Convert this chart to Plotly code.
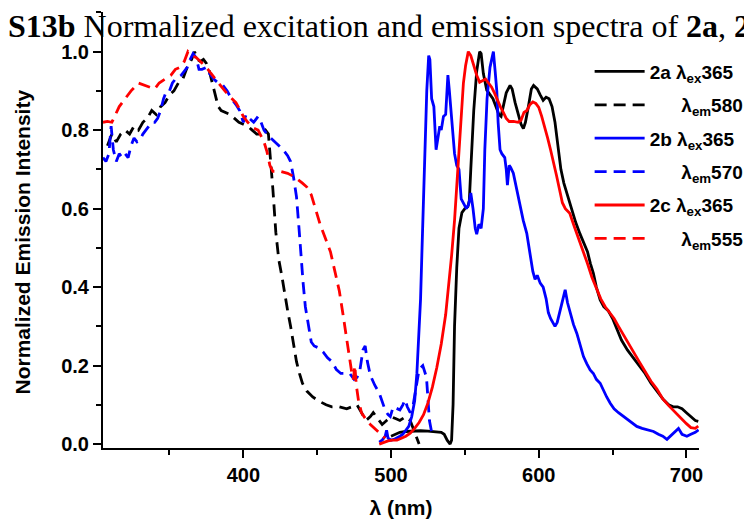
import plotly.graph_objects as go

# ---------------- data ----------------
# 2a excitation (lambda_em 580) - dashed black
ex2a_nm = [308, 311, 314, 317, 320, 323, 326, 329, 332, 335, 338, 341, 344, 347, 350, 353, 356, 359, 362, 365,
           367, 369, 371, 373, 375, 377, 379, 381, 383, 385, 388, 391, 394, 397, 400, 403, 406, 409, 412, 415,
           417, 419, 420, 422, 424, 426, 428, 430, 432, 434, 436, 438, 440, 443, 447, 451, 456, 460, 465, 470,
           474, 477, 480, 483, 486, 488, 491, 494, 497, 500, 503, 506, 510, 513, 516, 519]
ex2a_v = [0.76, 0.79, 0.77, 0.79, 0.80, 0.79, 0.81, 0.80, 0.82, 0.83, 0.85, 0.84, 0.86, 0.87, 0.89, 0.90, 0.92, 0.93, 0.96, 0.98,
          1.00, 0.98, 0.975, 0.98, 0.97, 0.95, 0.92, 0.89, 0.86, 0.85, 0.845, 0.84, 0.83, 0.82, 0.815, 0.81, 0.80, 0.79, 0.79, 0.80,
          0.79, 0.71, 0.65, 0.54, 0.47, 0.43, 0.38, 0.34, 0.30, 0.25, 0.21, 0.18, 0.155, 0.135, 0.12, 0.11, 0.10, 0.095, 0.095, 0.09,
          0.095, 0.10, 0.08, 0.06, 0.07, 0.08, 0.065, 0.05, 0.06, 0.07, 0.065, 0.06, 0.07, 0.06, 0.03, 0.0]

# 2b excitation (lambda_em 570) - dashed blue
ex2b_nm = [305, 307, 309, 310.5, 312, 314, 316, 318, 320, 322, 324, 326, 328, 330, 332, 334, 336, 338, 340, 342,
           344, 346, 348, 350, 352, 354, 356, 358, 360, 362, 364, 366, 368, 370, 372, 375, 377, 380, 383, 386,
           389, 392, 395, 397.5, 400, 402, 404, 407, 410, 412, 414, 417, 420, 423, 427, 430, 432, 434, 436, 437.5,
           439, 440.5, 442, 444, 446, 448, 451, 454, 457, 460, 463, 466, 469, 472, 475, 477, 479, 481, 482.5, 484,
           486, 489, 492, 494, 496, 498, 499.5, 501.5, 504, 506, 508, 509.5, 511, 513, 515, 517, 519, 521.5, 524, 526, 527.5]
ex2b_v = [0.73, 0.72, 0.74, 0.81, 0.75, 0.72, 0.74, 0.73, 0.74, 0.73, 0.76, 0.78, 0.77, 0.775, 0.79, 0.80, 0.81, 0.82, 0.82, 0.83,
          0.85, 0.88, 0.90, 0.90, 0.92, 0.93, 0.935, 0.94, 0.95, 0.96, 0.98, 0.995, 0.985, 0.955, 0.955, 0.96, 0.945, 0.93, 0.92, 0.915,
          0.90, 0.88, 0.865, 0.85, 0.82, 0.84, 0.83, 0.82, 0.835, 0.82, 0.80, 0.785, 0.775, 0.765, 0.75, 0.735, 0.72, 0.68, 0.63, 0.56,
          0.47, 0.41, 0.35, 0.30, 0.26, 0.25, 0.245, 0.235, 0.22, 0.21, 0.19, 0.18, 0.18, 0.18, 0.165, 0.17, 0.19, 0.24, 0.25, 0.21,
          0.175, 0.15, 0.13, 0.11, 0.087, 0.075, 0.07, 0.095, 0.09, 0.087, 0.10, 0.113, 0.095, 0.08, 0.10, 0.15, 0.19, 0.20, 0.17, 0.06, 0.03]

# 2c excitation (lambda_em 555) - dashed red
ex2c_nm = [305, 308, 311, 316, 320, 324, 329, 333, 337, 340, 343, 347, 351, 354, 357, 360, 362.5, 365, 368, 371,
           375, 378, 381, 384, 387.5, 391, 395, 398, 400, 403, 407, 410, 412, 414, 416, 418, 420, 425, 430, 435,
           440, 443, 446, 449, 452, 456, 459, 462, 465, 467.5, 470, 472, 473.5, 474.5, 475.5, 476.5, 478, 480, 483.5, 486,
           490, 493, 496]
ex2c_v = [0.82, 0.822, 0.82, 0.86, 0.88, 0.90, 0.92, 0.915, 0.91, 0.905, 0.92, 0.93, 0.94, 0.955, 0.96, 0.975, 1.0, 0.99, 0.985, 0.975,
          0.96, 0.945, 0.93, 0.915, 0.90, 0.885, 0.87, 0.85, 0.835, 0.82, 0.805, 0.80, 0.785, 0.77, 0.745, 0.71, 0.695, 0.695, 0.69, 0.68,
          0.665, 0.655, 0.635, 0.60, 0.56, 0.52, 0.49, 0.44, 0.39, 0.33, 0.27, 0.21, 0.18, 0.165, 0.20, 0.15, 0.11, 0.08, 0.06, 0.05,
          0.036, 0.025, 0.015]

# 2a emission (lambda_ex 365) - solid black
em2a_nm = [500, 503, 506, 510, 515, 520, 525, 530, 534, 536, 538, 540, 541, 542, 543, 544.5, 546, 548, 550, 552,
           553, 554, 556, 558, 560, 561, 562.5, 564.8, 567, 569, 571, 573, 574.5, 576, 578, 580.6, 582, 584, 586, 588,
           589.6, 591, 593, 595, 596.5, 599, 601, 603, 605, 607, 609, 611, 613, 615, 617, 619, 622, 625, 628, 631,
           633, 635, 637, 639, 641.6, 644, 647, 650, 653, 656, 660, 664, 668, 672, 676, 680, 684, 688, 691, 694,
           697, 700, 703, 706, 708]
em2a_v = [0.02, 0.025, 0.03, 0.032, 0.033, 0.034, 0.033, 0.032, 0.03, 0.025, 0.01, 0.0, 0.01, 0.10, 0.30, 0.45, 0.55, 0.59, 0.60, 0.605,
          0.62, 0.70, 0.85, 0.95, 1.0, 0.995, 0.944, 0.902, 0.89, 0.88, 0.86, 0.84, 0.835, 0.86, 0.895, 0.914, 0.905, 0.87, 0.84, 0.815,
          0.804, 0.82, 0.86, 0.905, 0.914, 0.905, 0.89, 0.876, 0.884, 0.88, 0.86, 0.82, 0.76, 0.70, 0.665, 0.64, 0.60, 0.565, 0.535, 0.51,
          0.49, 0.46, 0.435, 0.40, 0.367, 0.35, 0.34, 0.32, 0.29, 0.265, 0.24, 0.22, 0.20, 0.18, 0.155, 0.135, 0.115, 0.10, 0.095, 0.095,
          0.09, 0.08, 0.07, 0.06, 0.058]

# 2b emission (lambda_ex 365) - solid blue
em2b_nm = [492, 494, 496, 497, 498, 500, 502, 504, 506, 508, 510, 512, 514, 516, 517.5, 518.5, 520, 521, 522, 523,
           524.2, 525.5, 526.3, 527.5, 529, 530.5, 532, 533, 534, 535.5, 537, 538.5, 539.5, 541, 543, 544.5, 546, 547.5, 549.5, 551,
           552.5, 554, 555.5, 557, 558, 559.5, 561, 562.5, 563.5, 565, 567, 569.3, 570.5, 571.6, 572.5, 573.8, 575, 577, 578, 578.8,
           580, 581, 582.8, 584.5, 586, 587.5, 589.5, 591.9, 594, 596, 597.5, 599, 601, 603, 605, 606.5, 608, 609.5, 611, 612.5,
           614.5, 616, 617.9, 619.5, 621.3, 623.5, 625.8, 628, 630.3, 632.5, 634.8, 637, 639, 641.6, 644, 646, 648.4, 651, 654, 657.4,
           661, 664, 666.4, 670, 674, 677.7, 681, 684, 686.8, 689, 692, 694.6, 697, 700.3, 703, 706, 708.2]
em2b_v = [0.005, 0.01, 0.02, 0.035, 0.015, 0.01, 0.012, 0.015, 0.02, 0.025, 0.035, 0.045, 0.07, 0.11, 0.18, 0.25, 0.37, 0.50, 0.62, 0.78,
          0.90, 0.99, 0.98, 0.88, 0.86, 0.75, 0.78, 0.81, 0.80, 0.835, 0.84, 0.94, 0.90, 0.82, 0.74, 0.71, 0.70, 0.625, 0.61, 0.60,
          0.61, 0.64, 0.60, 0.55, 0.535, 0.56, 0.55, 0.60, 0.75, 0.88, 0.96, 1.0, 0.95, 0.90, 0.82, 0.75, 0.74, 0.73, 0.70, 0.66,
          0.71, 0.705, 0.69, 0.66, 0.63, 0.60, 0.57, 0.537, 0.49, 0.44, 0.42, 0.43, 0.41, 0.40, 0.37, 0.335, 0.32, 0.31, 0.30, 0.31,
          0.34, 0.37, 0.393, 0.36, 0.333, 0.305, 0.282, 0.25, 0.223, 0.205, 0.189, 0.18, 0.165, 0.155, 0.135, 0.12, 0.104, 0.09, 0.08, 0.07,
          0.06, 0.05, 0.045, 0.04, 0.035, 0.032, 0.025, 0.02, 0.012, 0.02, 0.03, 0.04, 0.025, 0.02, 0.025, 0.03, 0.036]

# 2c emission (lambda_ex 365) - solid red
em2c_nm = [492, 495, 498, 501, 504, 507, 510, 513, 516, 519, 522, 525, 528, 531, 534, 537, 539, 541, 543, 545,
           547, 549, 550.5, 552.3, 554, 556, 558, 560, 562, 564, 566, 568, 570, 572, 574, 576, 578, 580, 583, 586,
           588, 590, 592, 594, 596, 598, 600, 602, 604, 606, 608, 610, 612, 614, 616, 618, 621, 624, 627, 630,
           633, 636, 639, 642, 645, 648, 651, 654, 657, 660, 664, 668, 672, 676, 680, 684, 688, 692, 696, 700,
           703, 706, 708]
em2c_v = [0.0, 0.005, 0.008, 0.01, 0.01, 0.015, 0.02, 0.028, 0.04, 0.055, 0.075, 0.105, 0.145, 0.195, 0.255, 0.33, 0.40, 0.48, 0.57, 0.69,
          0.82, 0.92, 0.965, 1.0, 0.99, 0.965, 0.94, 0.922, 0.925, 0.93, 0.92, 0.91, 0.895, 0.875, 0.86, 0.845, 0.83, 0.822, 0.822, 0.82,
          0.825, 0.845, 0.85, 0.865, 0.872, 0.868, 0.858, 0.835, 0.81, 0.78, 0.75, 0.72, 0.685, 0.65, 0.615, 0.60, 0.588, 0.555, 0.525, 0.495,
          0.46, 0.425, 0.395, 0.37, 0.35, 0.335, 0.32, 0.30, 0.28, 0.262, 0.235, 0.21, 0.185, 0.16, 0.14, 0.115, 0.098, 0.082, 0.066, 0.052,
          0.042, 0.04, 0.046]

pad = "\u00a0" * 6
legend_names = ["2a λ<sub>ex</sub>365", pad + "λ<sub>em</sub>580",
                "2b λ<sub>ex</sub>365", pad + "λ<sub>em</sub>570",
                "2c λ<sub>ex</sub>365", pad + "λ<sub>em</sub>555"]

title_text = "<b>S13b</b> Normalized excitation and emission spectra of <b>2a</b>, <b>2</b>"
x_title = "λ (nm)"
y_title = "Normalized Emission Intensity"
x_ticks = [400, 500, 600, 700]
y_ticks = [0.0, 0.2, 0.4, 0.6, 0.8, 1.0]

# ---------------- figure ----------------
series = [
    (em2a_nm, em2a_v, "#000000", "solid"),
    (ex2a_nm, ex2a_v, "#000000", "12px,7px"),
    (em2b_nm, em2b_v, "#0000FF", "solid"),
    (ex2b_nm, ex2b_v, "#0000FF", "12px,7px"),
    (em2c_nm, em2c_v, "#FF0000", "solid"),
    (ex2c_nm, ex2c_v, "#FF0000", "12px,7px"),
]

fig = go.Figure()
for i, (xs, ys, col, dash) in enumerate(series):
    fig.add_trace(go.Scatter(x=xs, y=ys, mode="lines", name=legend_names[i],
                             legendgroup="g%d" % i,
                             line=dict(color=col, width=2.8, dash=dash)))

W, H = 744, 521
L, R, T, B = 103, 45, 12, 73

axis_font = dict(family="Liberation Sans, Arial, sans-serif", size=20, color="black", weight="bold")

fig.update_layout(
    width=W, height=H,
    margin=dict(l=L, r=R, t=T, b=B, autoexpand=False),
    paper_bgcolor="white", plot_bgcolor="white",
    title=dict(text=title_text, xref="container", yref="container",
               x=8 / W, xanchor="left", y=1 - 26 / H, yanchor="middle",
               font=dict(family="Liberation Serif, Times New Roman, serif", size=32, color="black")),
    showlegend=True,
    legend=dict(x=0.8165, y=0.907, xanchor="left", yanchor="top",
                bgcolor="rgba(0,0,0,0)", borderwidth=0,
                traceorder="grouped", tracegroupgap=5.7, itemwidth=50,
                font=dict(family="Liberation Sans, Arial, sans-serif", size=19, color="black", weight="bold")),
    xaxis=dict(range=[305, 708.5], showgrid=False, zeroline=False,
               showline=True, linecolor="black", linewidth=2, mirror=False,
               ticks="outside", ticklen=8, tickwidth=2, tickcolor="black",
               tickmode="array", tickvals=x_ticks, ticktext=[str(v) for v in x_ticks],
               tickfont=axis_font,
               minor=dict(tickmode="linear", tick0=350, dtick=50, ticks="outside", ticklen=5, tickwidth=2, tickcolor="black"),
               title=dict(text=x_title, standoff=15,
                          font=dict(family="Liberation Sans, Arial, sans-serif", size=21, color="black", weight="bold"))),
    yaxis=dict(range=[-0.01, 1.101], showgrid=False, zeroline=False,
               showline=True, linecolor="black", linewidth=2, mirror=False,
               ticks="outside", ticklen=8, tickwidth=2, tickcolor="black",
               tickmode="array", tickvals=y_ticks, ticktext=["%.1f" % v for v in y_ticks],
               tickfont=axis_font,
               minor=dict(tickmode="linear", tick0=0, dtick=0.1, ticks="outside", ticklen=5, tickwidth=2, tickcolor="black")),
    annotations=[dict(text=y_title, xref="paper", yref="paper",
                      x=(22 - L) / (W - L - R), y=(H - B - 242.5) / (H - T - B),
                      xanchor="center", yanchor="middle", textangle=-90, showarrow=False,
                      font=dict(family="Liberation Sans, Arial, sans-serif", size=21, color="black", weight="bold"))],
)

fig.write_html("out.html")
